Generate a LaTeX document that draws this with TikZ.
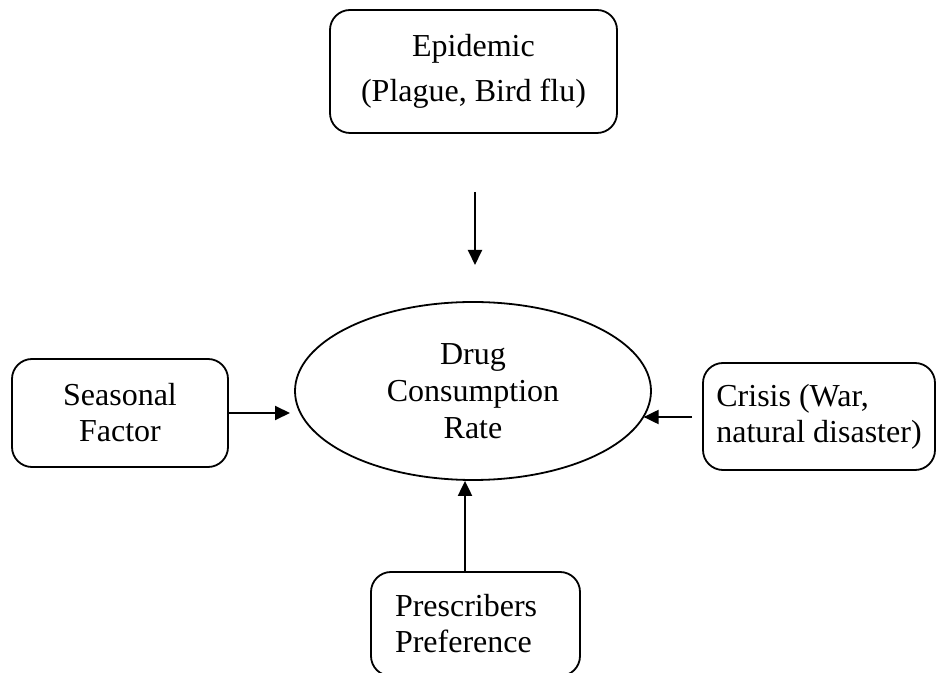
\documentclass[tikz,border=0pt]{standalone}
\usepackage{fontspec}
\setmainfont{Liberation Serif}
\usetikzlibrary{shapes.geometric,arrows.meta}

\tikzset{
  factor/.style={draw,rounded corners=10pt,line width=0.9pt,font=\fontsize{16}{18}\selectfont},
  flow/.style={line width=1pt,-{Triangle[length=7.5pt,width=7pt]}}
}

\begin{document}
\begin{tikzpicture}[x=0.5pt,y=-0.5pt]
  \useasboundingbox (0,0) rectangle (938,673);

  \node (drug) [ellipse,draw,line width=0.9pt,minimum width=178pt,minimum height=89pt,align=center,font=\fontsize{16}{18.5}\selectfont] at (473,391) {Drug\\Consumption\\Rate};

  \node (epidemic) [factor,minimum width=143.5pt,minimum height=61.5pt,align=center,font=\fontsize{16}{22.5}\selectfont] at (473.5,71.5) {Epidemic\\(Plague, Bird flu)};
  \node (seasonal) [factor,minimum width=108pt,minimum height=54pt,align=center] at (120,413) {Seasonal\\Factor};
  \node (crisis) [factor,minimum width=116pt,minimum height=53.5pt,align=left] at (819,416.5) {Crisis (War,\\natural disaster)};
  \node (prescribers) [factor,text width=80.5pt,inner xsep=12pt,minimum height=52pt,align=left] at (475.5,624) {Prescribers\\Preference};

  \coordinate (e1) at (475,192);
  \coordinate (e2) at (475,265);
  \coordinate (s1) at (290,413);
  \coordinate (c1) at (692,417);
  \coordinate (p1) at (465,572);

  \draw [flow] (e1) -- (e2);
  \draw [flow] (seasonal.east) -- (s1);
  \draw [flow] (c1) -- (c1 -| drug.-9);
  \draw [flow] (p1) -- (p1 |- drug.south);
\end{tikzpicture}
\end{document}
